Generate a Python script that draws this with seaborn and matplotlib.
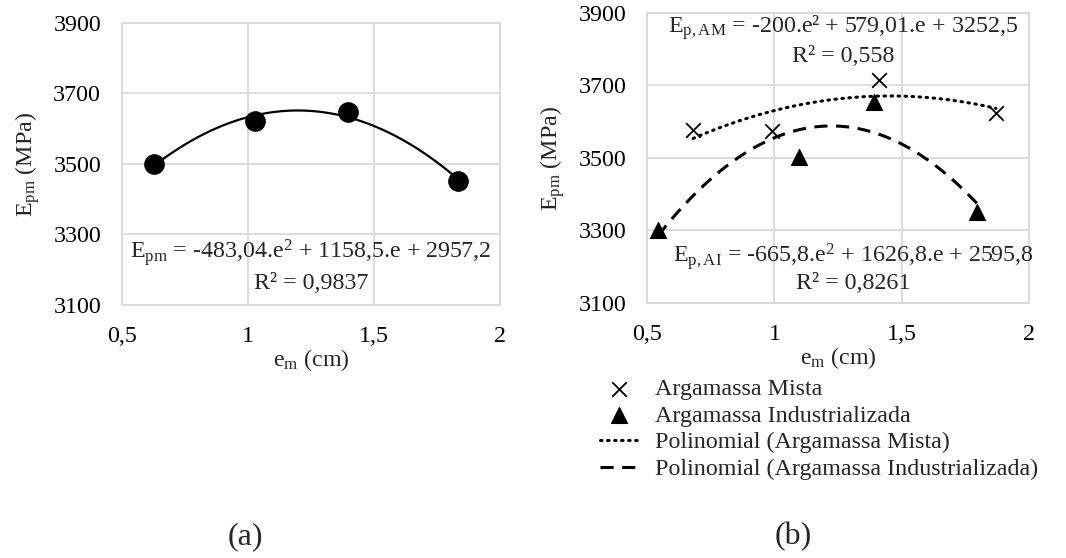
import seaborn as sns
import matplotlib.pyplot as plt
import numpy as np
import pandas as pd

# Data
# (a) single series
e_a = [0.627, 1.028, 1.397, 1.833]
E_a = [3500, 3622, 3648, 3453]

# (b) two mortar types
e_mista = [0.681, 0.992, 1.409, 1.870]
E_mista = [3577, 3575, 3715, 3624]
e_ind = [0.543, 1.098, 1.390, 1.795]
E_ind = [3300, 3503, 3655, 3351]

x_ticks = [0.5, 1, 1.5, 2]
x_tick_labels = ['0,5', '1', '1,5', '2']
y_ticks = [3100, 3300, 3500, 3700, 3900]

eq_a = ['E$_{\\mathrm{pm}}$ = -483,04.e$^{2}$ + 1158,5.e + 2957,2', 'R² = 0,9837']
eq_mista = ['E$_{\\mathrm{p,AM}}$ = -200.e² + 579,01.e + 3252,5', 'R² = 0,558']
eq_ind = ['E$_{\\mathrm{p,AI}}$ = -665,8.e$^{2}$ + 1626,8.e + 2595,8', 'R² = 0,8261']

# Style
sns.set_theme(style="whitegrid")
plt.rcParams['font.family'] = ['Liberation Serif', 'DejaVu Serif']
plt.rcParams['mathtext.fontset'] = 'custom'
plt.rcParams['mathtext.rm'] = 'Liberation Serif'
plt.rcParams['mathtext.it'] = 'Liberation Serif:italic'
plt.rcParams['mathtext.bf'] = 'Liberation Serif:bold'

grid_color = '#d9d9d9'
fs = 17.3

fig = plt.figure(figsize=(10.66, 5.58), dpi=100)
ax1 = fig.add_axes([0.1144, 0.4534, 0.3546, 0.5054])
ax2 = fig.add_axes([0.607, 0.457, 0.3583, 0.5197])

df_a = pd.DataFrame({'e': e_a, 'E': E_a})
df_m = pd.DataFrame({'e': e_mista, 'E': E_mista})
df_i = pd.DataFrame({'e': e_ind, 'E': E_ind})

# Panel (a)
sns.regplot(data=df_a, x='e', y='E', order=2, ci=None, truncate=True,
            scatter=False, ax=ax1,
            line_kws=dict(color='black', lw=1.6))
sns.scatterplot(data=df_a, x='e', y='E', ax=ax1, color='black',
                s=190, edgecolor='black', zorder=3)

# Panel (b)
sns.scatterplot(data=df_m, x='e', y='E', ax=ax2, marker='x', color='black',
                s=110, linewidth=1.3, label='Argamassa Mista', zorder=3)
sns.scatterplot(data=df_i, x='e', y='E', ax=ax2, marker='^', color='black',
                s=130, edgecolor='black', label='Argamassa Industrializada',
                zorder=3)
sns.regplot(data=df_m, x='e', y='E', order=2, ci=None, truncate=True,
            scatter=False, ax=ax2,
            line_kws=dict(color='black', lw=2.2, ls=(0, (0.5, 1.8)),
                          dash_capstyle='round'))
ax2.lines[-1].set_label('Polinomial (Argamassa Mista)')
sns.regplot(data=df_i, x='e', y='E', order=2, ci=None, truncate=True,
            scatter=False, ax=ax2,
            line_kws=dict(color='black', lw=2.2, ls=(0, (4.3, 2.8))))
ax2.lines[-1].set_label('Polinomial (Argamassa Industrializada)')

for ax in (ax1, ax2):
    ax.set_xlim(0.5, 2)
    ax.set_ylim(3100, 3900)
    ax.set_xticks(x_ticks)
    ax.set_xticklabels(x_tick_labels)
    ax.set_yticks(y_ticks)
    ax.tick_params(axis='both', length=0, labelsize=fs, colors='black')
    ax.tick_params(axis='y', pad=15)
    ax.tick_params(axis='x', pad=15)
    ax.grid(True, color=grid_color, lw=1.3)
    for s in ax.spines.values():
        s.set_color(grid_color)
        s.set_linewidth(1.3)
    ax.set_xlabel('e$_{\\mathrm{m}}$ (cm)', fontsize=fs, labelpad=0)
    ax.set_ylabel('E$_{\\mathrm{pm}}$ (MPa)', fontsize=fs, labelpad=8)
    if ax.get_legend() is not None:
        ax.get_legend().remove()

# Trendline equations
ax1.text(1.25, 3248, eq_a[0], ha='center', va='center', fontsize=fs)
ax1.text(1.25, 3162, eq_a[1], ha='center', va='center', fontsize=fs)
ax2.text(1.27, 3859, eq_mista[0], ha='center', va='center', fontsize=fs)
ax2.text(1.27, 3779, eq_mista[1], ha='center', va='center', fontsize=fs)
ax2.text(1.31, 3227, eq_ind[0], ha='center', va='center', fontsize=fs)
ax2.text(1.31, 3155, eq_ind[1], ha='center', va='center', fontsize=fs)

# Legend below panel (b)
handles, labels = ax2.get_legend_handles_labels()
order = ['Argamassa Mista', 'Argamassa Industrializada',
         'Polinomial (Argamassa Mista)',
         'Polinomial (Argamassa Industrializada)']
hl = dict(zip(labels, handles))
fig.legend([hl[k] for k in order], order, loc='upper left',
           bbox_to_anchor=(0.563, 0.322), frameon=False, fontsize=fs,
           borderpad=0, handlelength=1.55, handletextpad=0.75,
           labelspacing=0.2, borderaxespad=0)

# Panel labels
fig.text(245 / 1066, 1 - 537 / 558, '(a)', ha='center', va='center', fontsize=23)
fig.text(793 / 1066, 1 - 537 / 558, '(b)', ha='center', va='center', fontsize=23)

plt.savefig('out.png', dpi=100)
